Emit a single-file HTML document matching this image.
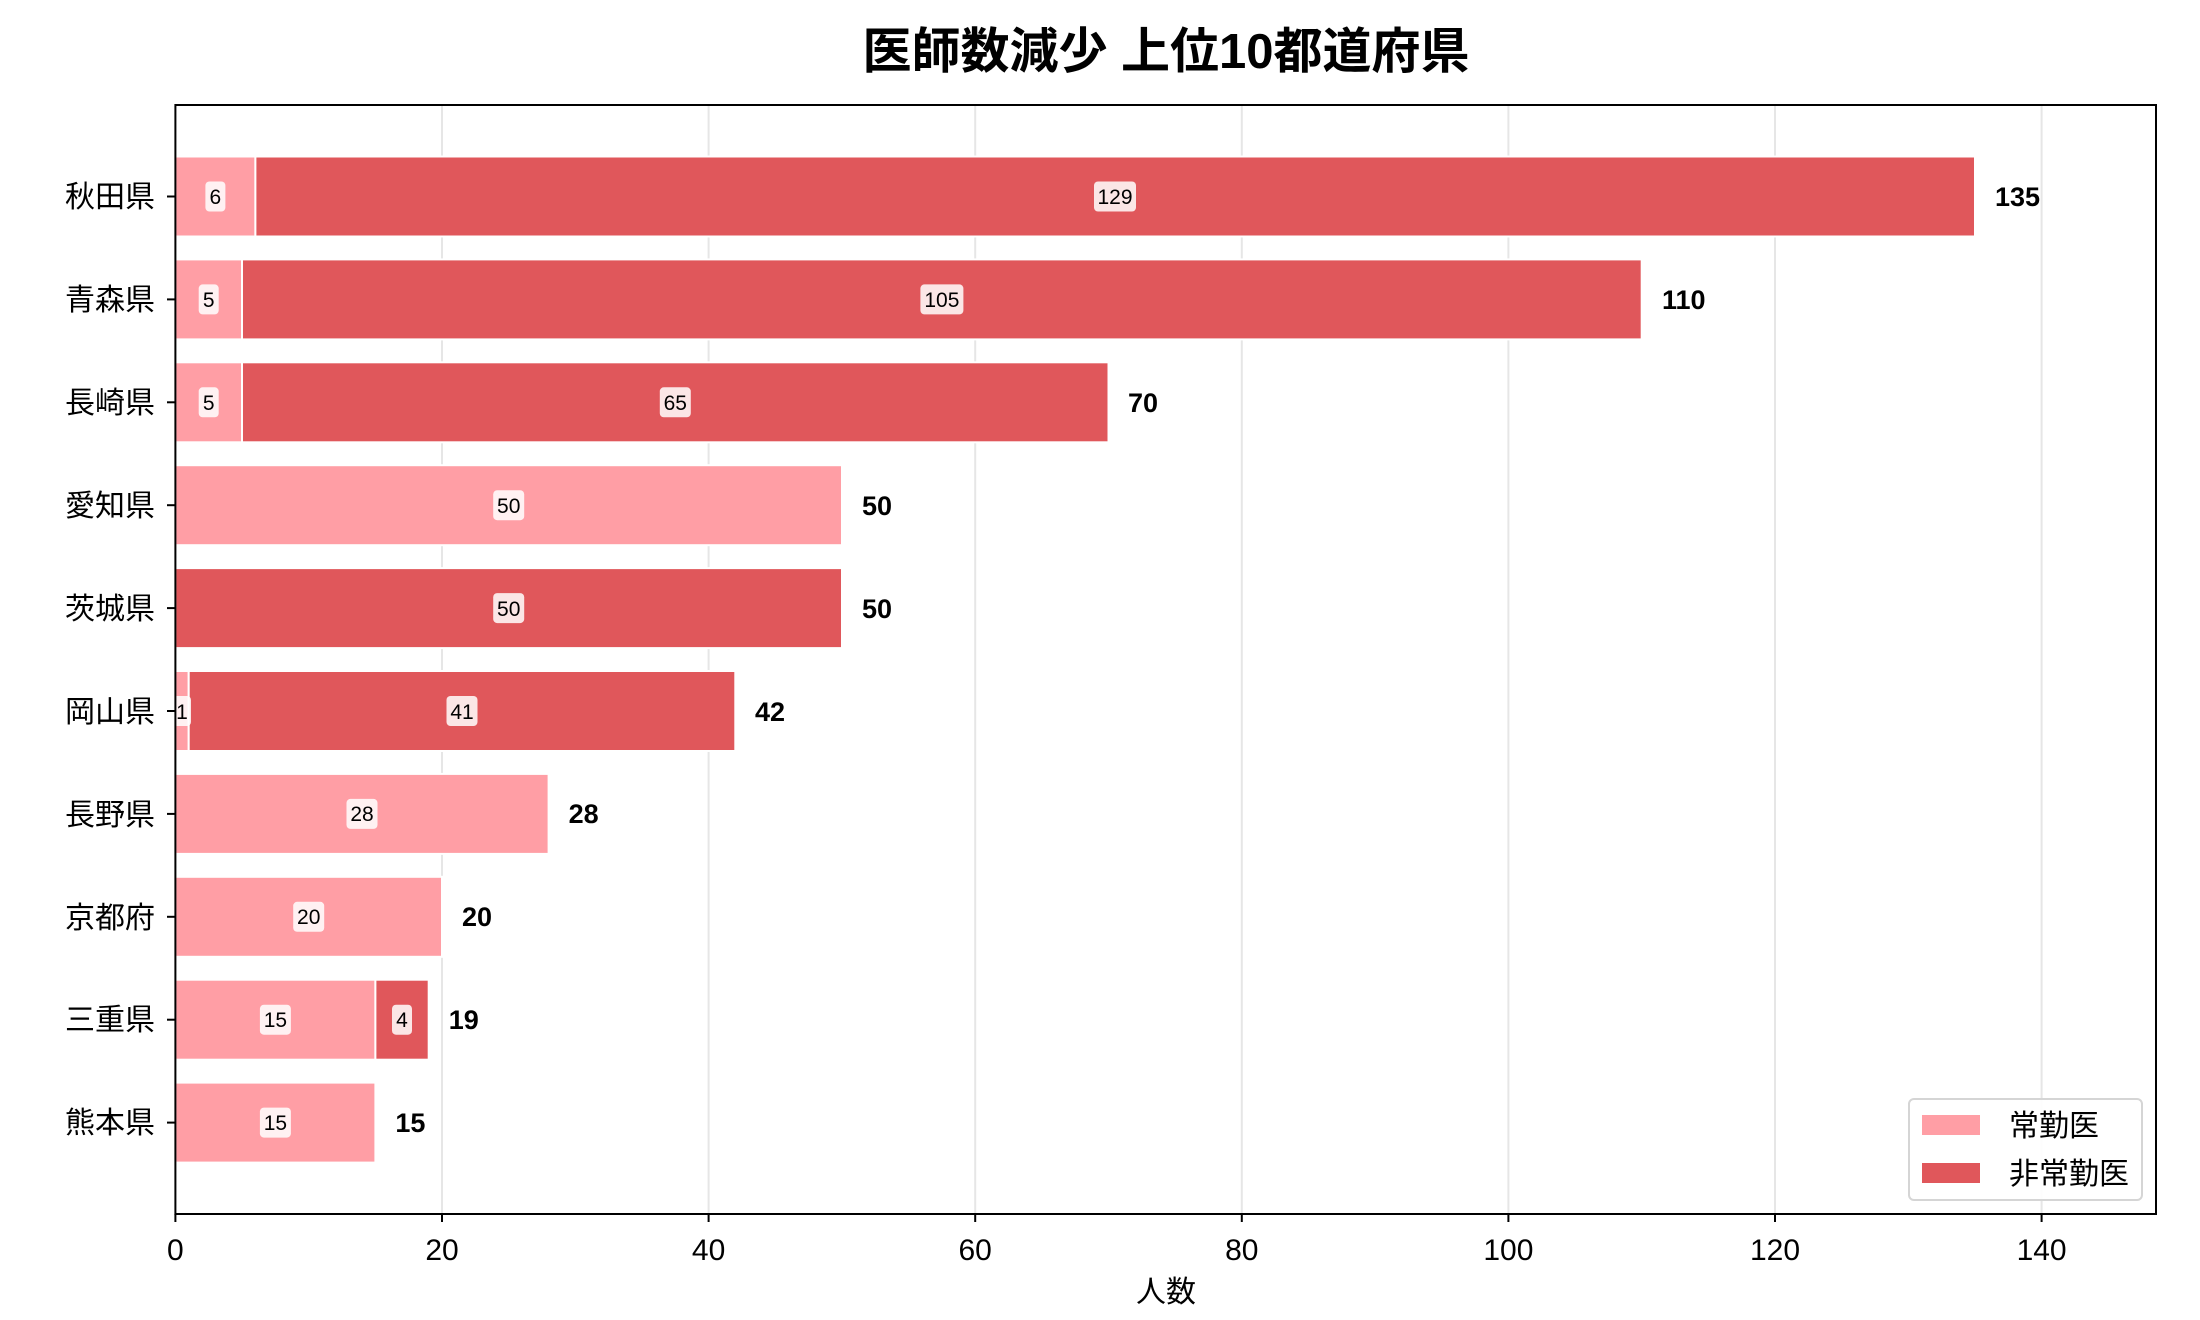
<!DOCTYPE html>
<html><head><meta charset="utf-8"><style>
html,body{margin:0;padding:0;background:#fff;}
svg{display:block;font-family:"Liberation Sans","Noto Sans CJK JP",sans-serif;}
.tl{font-size:30px;fill:#000;}
.v{font-size:21px;fill:#000;}
.t{font-size:27px;font-weight:bold;fill:#000;}
</style></head><body>
<svg width="2200" height="1320" viewBox="0 0 2200 1320" xmlns="http://www.w3.org/2000/svg">
<rect width="2200" height="1320" fill="#fff"/>
<text x="1166" y="68" text-anchor="middle" style="font-size:49px;font-weight:bold">医師数減少 上位10都道府県</text>
<g stroke="#e6e6e6" stroke-width="2">
<line x1="442" y1="105" x2="442" y2="1214"/><line x1="708.6" y1="105" x2="708.6" y2="1214"/>
<line x1="975.2" y1="105" x2="975.2" y2="1214"/><line x1="1241.8" y1="105" x2="1241.8" y2="1214"/>
<line x1="1508.4" y1="105" x2="1508.4" y2="1214"/><line x1="1775" y1="105" x2="1775" y2="1214"/>
<line x1="2041.6" y1="105" x2="2041.6" y2="1214"/>
</g>
<g stroke="#fff" stroke-width="2">
<rect x="175.4" y="156.5" width="80" height="80" fill="#ff9ea5"/><rect x="255.4" y="156.5" width="1719.6" height="80" fill="#e0575b"/>
<rect x="175.4" y="259.4" width="66.6" height="80" fill="#ff9ea5"/><rect x="242" y="259.4" width="1399.7" height="80" fill="#e0575b"/>
<rect x="175.4" y="362.3" width="66.6" height="80" fill="#ff9ea5"/><rect x="242" y="362.3" width="866.5" height="80" fill="#e0575b"/>
<rect x="175.4" y="465.2" width="666.6" height="80" fill="#ff9ea5"/>
<rect x="175.4" y="568.1" width="666.6" height="80" fill="#e0575b"/>
<rect x="175.4" y="671" width="13.3" height="80" fill="#ff9ea5"/><rect x="188.7" y="671" width="546.6" height="80" fill="#e0575b"/>
<rect x="175.4" y="773.9" width="373.2" height="80" fill="#ff9ea5"/>
<rect x="175.4" y="876.8" width="266.6" height="80" fill="#ff9ea5"/>
<rect x="175.4" y="979.7" width="200" height="80" fill="#ff9ea5"/><rect x="375.4" y="979.7" width="53.3" height="80" fill="#e0575b"/>
<rect x="175.4" y="1082.6" width="200" height="80" fill="#ff9ea5"/>
</g>
<g fill="#fff" fill-opacity="0.85">
<rect x="205.4" y="181.5" width="20" height="30" rx="4"/><rect x="1094" y="181.5" width="42" height="30" rx="4"/>
<rect x="198.7" y="284.4" width="20" height="30" rx="4"/><rect x="920.4" y="284.4" width="43" height="30" rx="4"/>
<rect x="198.7" y="387.3" width="20" height="30" rx="4"/><rect x="659.8" y="387.3" width="31" height="30" rx="4"/>
<rect x="493.2" y="490.2" width="31" height="30" rx="4"/>
<rect x="493.2" y="593.1" width="31" height="30" rx="4"/>
<rect x="173" y="696" width="18" height="30" rx="4"/><rect x="446.5" y="696" width="31" height="30" rx="4"/>
<rect x="346.5" y="798.9" width="31" height="30" rx="4"/>
<rect x="293.2" y="901.8" width="31" height="30" rx="4"/>
<rect x="259.9" y="1004.7" width="31" height="30" rx="4"/><rect x="392" y="1004.7" width="20" height="30" rx="4"/>
<rect x="259.9" y="1107.6" width="31" height="30" rx="4"/>
</g>
<g class="v" text-anchor="middle">
<text x="215.4" y="204">6</text><text x="1115" y="204">129</text>
<text x="208.7" y="307">5</text><text x="941.9" y="307">105</text>
<text x="208.7" y="410">5</text><text x="675.3" y="410">65</text>
<text x="508.7" y="513">50</text>
<text x="508.7" y="616">50</text>
<text x="182" y="719">1</text><text x="462" y="719">41</text>
<text x="362" y="821">28</text>
<text x="308.7" y="924">20</text>
<text x="275.4" y="1027">15</text><text x="402" y="1027">4</text>
<text x="275.4" y="1130">15</text>
</g>
<g class="t">
<text x="1995" y="206">135</text><text x="1662" y="309">110</text><text x="1128" y="412">70</text>
<text x="862" y="515">50</text><text x="862" y="618">50</text><text x="755" y="721">42</text>
<text x="568.6" y="823">28</text><text x="462" y="926">20</text><text x="448.7" y="1029">19</text><text x="395.4" y="1132">15</text>
</g>
<rect x="175.4" y="105" width="1980.6" height="1109" fill="none" stroke="#000" stroke-width="2"/>
<g stroke="#000" stroke-width="2">
<line x1="167" y1="196.5" x2="175" y2="196.5"/><line x1="167" y1="299.4" x2="175" y2="299.4"/><line x1="167" y1="402.3" x2="175" y2="402.3"/>
<line x1="167" y1="505.2" x2="175" y2="505.2"/><line x1="167" y1="608.1" x2="175" y2="608.1"/><line x1="167" y1="711" x2="175" y2="711"/>
<line x1="167" y1="813.9" x2="175" y2="813.9"/><line x1="167" y1="916.8" x2="175" y2="916.8"/><line x1="167" y1="1019.7" x2="175" y2="1019.7"/>
<line x1="167" y1="1122.6" x2="175" y2="1122.6"/>
<line x1="175.4" y1="1214" x2="175.4" y2="1222"/><line x1="442" y1="1214" x2="442" y2="1222"/><line x1="708.6" y1="1214" x2="708.6" y2="1222"/>
<line x1="975.2" y1="1214" x2="975.2" y2="1222"/><line x1="1241.8" y1="1214" x2="1241.8" y2="1222"/><line x1="1508.4" y1="1214" x2="1508.4" y2="1222"/>
<line x1="1775" y1="1214" x2="1775" y2="1222"/><line x1="2041.6" y1="1214" x2="2041.6" y2="1222"/>
</g>
<g class="tl" text-anchor="end">
<text x="155" y="207">秋田県</text><text x="155" y="310">青森県</text><text x="155" y="413">長崎県</text>
<text x="155" y="516">愛知県</text><text x="155" y="619">茨城県</text><text x="155" y="722">岡山県</text>
<text x="155" y="825">長野県</text><text x="155" y="928">京都府</text><text x="155" y="1030">三重県</text>
<text x="155" y="1133">熊本県</text>
</g>
<g class="tl" text-anchor="middle">
<text x="175.4" y="1260">0</text><text x="442" y="1260">20</text><text x="708.6" y="1260">40</text><text x="975.2" y="1260">60</text>
<text x="1241.8" y="1260">80</text><text x="1508.4" y="1260">100</text><text x="1775" y="1260">120</text><text x="2041.6" y="1260">140</text>
<text x="1166" y="1302">人数</text>
</g>
<rect x="1909" y="1099" width="233" height="101" rx="5" fill="#fff" fill-opacity="0.9" stroke="#d5d5d5" stroke-width="2"/>
<rect x="1922" y="1115" width="58" height="20" fill="#ff9ea5"/>
<rect x="1922" y="1163" width="58" height="20" fill="#e0575b"/>
<text class="tl" x="2009" y="1136">常勤医</text>
<text class="tl" x="2009" y="1184">非常勤医</text>
</svg>
</body></html>
